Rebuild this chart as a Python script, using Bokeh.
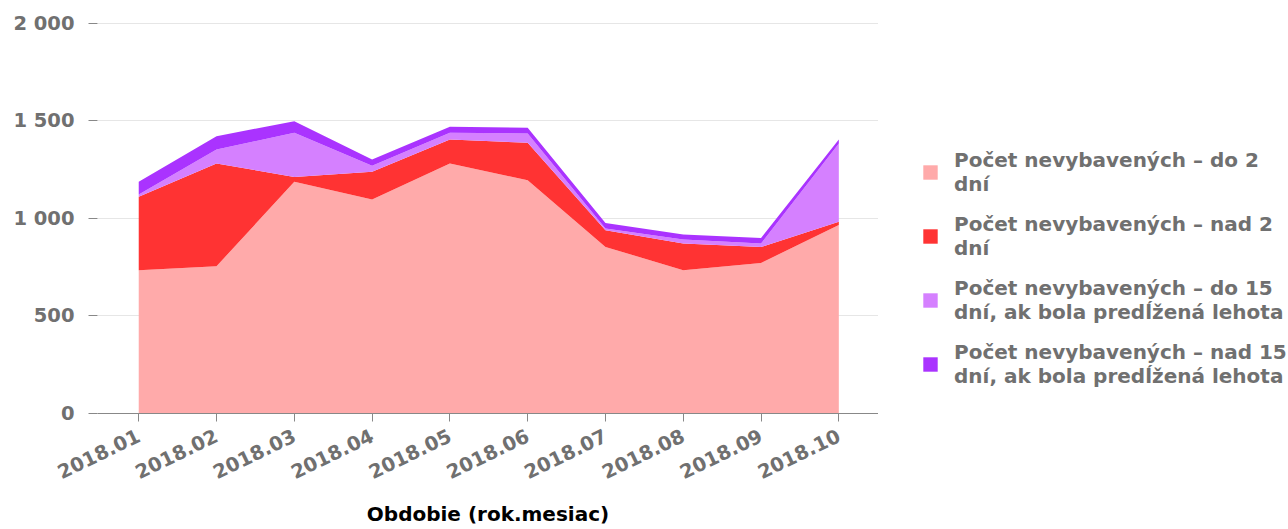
import math
from bokeh.plotting import figure
from bokeh.layouts import row
from bokeh.models import ColumnDataSource, FixedTicker, Legend, LegendItem, Range1d
from bokeh.embed import file_html
from bokeh.resources import INLINE

# ---- data ----
periods = ["2018.01", "2018.02", "2018.03", "2018.04", "2018.05",
           "2018.06", "2018.07", "2018.08", "2018.09", "2018.10"]
do_2_dni = [735, 755, 1188, 1097, 1282, 1196, 854, 735, 772, 966]
nad_2_dni = [376, 527, 25, 142, 123, 192, 86, 137, 82, 17]
do_15_dni = [12, 72, 226, 31, 34, 48, 9, 20, 18, 402]
nad_15_dni = [65, 68, 60, 33, 31, 29, 28, 26, 28, 20]
series_labels = [
    "Počet nevybavených – do 2\ndní",
    "Počet nevybavených – nad 2\ndní",
    "Počet nevybavených – do 15\ndní, ak bola predĺžená lehota",
    "Počet nevybavených – nad 15\ndní, ak bola predĺžená lehota",
]
y_ticks = [0, 500, 1000, 1500, 2000]
y_tick_labels = ["0", "500", "1 000", "1 500", "2 000"]
colors = ["#ffaaaa", "#ff3333", "#d580ff", "#aa33ff"]

xs = list(range(len(periods)))
src = ColumnDataSource(dict(x=xs, do2=do_2_dni, nad2=nad_2_dni,
                            do15=do_15_dni, nad15=nad_15_dni))
stackers = ["do2", "nad2", "do15", "nad15"]

FONT = "DejaVu Sans"
GREY = "#707070"

p = figure(width=878, height=528, output_backend="svg", toolbar_location=None,
           x_range=Range1d(-0.53, 9.51), y_range=Range1d(0, 2051),
           min_border_left=97, min_border_right=0, min_border_top=13,
           min_border_bottom=115)
p.outline_line_color = None
p.background_fill_color = "white"

rs = p.varea_stack(stackers=stackers, x="x", color=colors, source=src)

# axes
xa = p.xaxis[0]
xa.ticker = FixedTicker(ticks=xs)
xa.major_label_overrides = {i: lab for i, lab in enumerate(periods)}
xa.major_label_orientation = 0.45
xa.major_label_text_font = FONT
xa.major_label_text_font_style = "bold"
xa.major_label_text_font_size = "19.5px"
xa.major_label_text_color = GREY
xa.major_label_standoff = 13
xa.axis_line_color = "#888888"
xa.major_tick_line_color = "#888888"
xa.major_tick_out = 8
xa.major_tick_in = 0
xa.minor_tick_line_color = None
xa.axis_label = "Obdobie (rok.mesiac)"
xa.axis_label_text_font = FONT
xa.axis_label_text_font_style = "bold"
xa.axis_label_text_font_size = "20px"
xa.axis_label_text_color = "black"
xa.axis_label_standoff = 13

ya = p.yaxis[0]
ya.ticker = FixedTicker(ticks=y_ticks)
ya.major_label_overrides = {t: l for t, l in zip(y_ticks, y_tick_labels)}
ya.major_label_text_font = FONT
ya.major_label_text_font_style = "bold"
ya.major_label_text_font_size = "19.5px"
ya.major_label_text_color = GREY
ya.major_label_standoff = 14
ya.axis_line_color = None
ya.major_tick_line_color = "#888888"
ya.major_tick_out = 9
ya.major_tick_in = 0
ya.minor_tick_line_color = None

p.xgrid.grid_line_color = None
p.ygrid.grid_line_color = "#e6e6e6"

# legend panel (separate figure, same series, renderers hidden)
lf = figure(width=408, height=528, output_backend="svg", toolbar_location=None,
            x_axis_location=None, y_axis_location=None,
            x_range=Range1d(-0.53, 9.51), y_range=Range1d(0, 2051),
            min_border_left=0, min_border_right=0, min_border_top=0,
            min_border_bottom=0)
lf.outline_line_color = None
lf.grid.grid_line_color = None
lrs = lf.varea_stack(stackers=stackers, x="x", color=colors, source=src)
for r in lrs:
    r.visible = False

legend = Legend(items=[LegendItem(label=l, renderers=[r]) for l, r in zip(series_labels, lrs)],
                location=(43, 25), orientation="vertical",
                glyph_width=18, glyph_height=18, label_standoff=15, spacing=16,
                padding=0, margin=0, border_line_color=None,
                background_fill_alpha=0, inactive_fill_alpha=0,
                label_text_font=FONT, label_text_font_style="bold",
                label_text_font_size="20px", label_text_color=GREY,
                label_text_line_height=1.1)
lf.add_layout(legend, "center")

layout = row(p, lf)
open("out.html", "w").write(file_html(layout, INLINE))
